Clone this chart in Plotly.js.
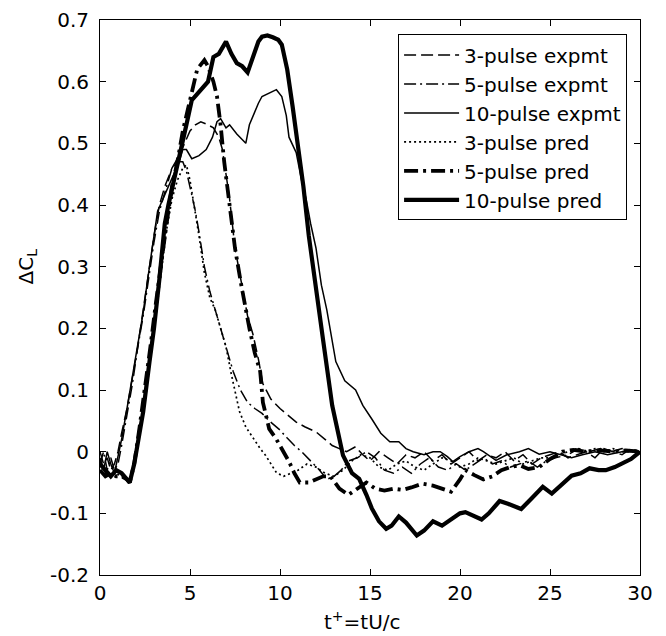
<!DOCTYPE html>
<html>
<head>
<meta charset="utf-8">
<script src="https://cdn.plot.ly/plotly-3.0.1.min.js"></script>
<style>html,body{margin:0;padding:0;background:#fff;}#chart{width:666px;height:636px;}</style>
</head>
<body>
<div id="chart"></div>
<script>
// ---- data ----
const seriesNames = ['3-pulse expmt','5-pulse expmt','10-pulse expmt','3-pulse pred','5-pulse pred','10-pulse pred'];

const t_e3 = [0,0.2,0.4,0.6,0.8,1.0,1.2,1.5,1.8,2.1,2.4,2.7,3.0,3.3,3.6,4.0,4.4,4.7,5.0,5.3,5.6,6.0,6.3,6.6,6.8,7.0,7.2,7.5,7.85,8.2,8.5,8.8,9.05,9.5,10.0,10.4,10.9,11.4,12.0,12.5,12.9,13.3,13.7,14.2,14.6,15.0,15.5,16.0,16.5,17.0,17.5,18.0,18.5,19.0,19.5,20.0,20.5,21.0,21.5,22.0,22.5,23.0,23.5,24.0,24.5,25.0,25.5,26.0,26.5,27.0,27.5,28.0,28.5,29.0,29.5,30];
const cl_e3 = [0.0,-0.02,-0.01,-0.03,-0.02,0.0,0.03,0.07,0.12,0.17,0.23,0.29,0.35,0.40,0.43,0.46,0.48,0.50,0.52,0.53,0.535,0.53,0.525,0.51,0.49,0.45,0.41,0.33,0.275,0.22,0.19,0.15,0.11,0.085,0.07,0.06,0.048,0.04,0.032,0.02,0.01,0.005,0.0,0.008,-0.005,-0.015,0.0,-0.01,-0.02,-0.005,-0.01,0.0,-0.015,-0.005,-0.02,-0.01,0.0,-0.015,-0.005,-0.01,0.0,-0.015,-0.005,-0.02,-0.01,-0.005,0.0,-0.01,-0.005,0.0,-0.01,0.005,0.0,-0.005,0.005,0.0];

const t_e5 = [0,0.2,0.4,0.6,0.8,1.0,1.2,1.5,1.8,2.1,2.4,2.7,3.0,3.3,3.6,4.0,4.3,4.6,4.8,5.0,5.3,5.5,5.8,6.1,6.4,6.7,7.0,7.4,7.8,8.2,8.6,9.0,9.4,10.0,10.4,10.8,11.2,11.7,12.2,12.6,13.0,13.4,13.8,14.3,14.8,15.3,15.8,16.3,16.8,17.3,17.8,18.3,18.8,19.3,19.8,20.3,20.8,21.3,21.8,22.3,22.8,23.3,23.8,24.3,24.8,25.3,26.0,26.6,27.2,27.8,28.4,29.0,29.5,30];
const cl_e5 = [-0.02,0.0,-0.03,-0.01,-0.03,-0.02,0.01,0.06,0.11,0.17,0.22,0.28,0.34,0.39,0.42,0.46,0.47,0.47,0.455,0.43,0.39,0.356,0.30,0.26,0.23,0.20,0.17,0.13,0.10,0.08,0.07,0.062,0.05,0.035,0.022,0.01,0.0,-0.015,-0.03,-0.045,-0.04,-0.03,-0.015,-0.01,0.0,-0.01,-0.03,-0.035,-0.025,-0.035,-0.02,-0.01,-0.025,-0.03,-0.02,-0.03,-0.02,-0.01,-0.02,-0.015,-0.025,-0.02,-0.015,-0.025,-0.015,-0.01,-0.005,0.005,0.0,0.005,0.0,0.005,0.0,0.0];

const t_e10 = [0,0.2,0.4,0.6,0.8,1.0,1.2,1.5,1.8,2.1,2.4,2.65,2.9,3.2,3.5,3.8,4.1,4.4,4.6,4.8,5.1,5.5,5.9,6.25,6.5,6.7,7.0,7.2,7.6,7.9,8.1,8.3,8.5,8.8,9.0,9.3,9.6,9.8,10.1,10.35,10.5,10.9,11.2,11.45,11.7,12.0,12.3,12.6,13.1,13.6,14.2,14.6,15.1,15.6,16.1,16.6,17.0,17.4,18.0,18.5,18.9,19.3,19.6,20.0,20.5,21.0,21.3,22.0,22.6,23.3,23.8,24.4,25.0,25.5,26.2,26.8,27.5,28.2,29.0,29.6,30];
const cl_e10 = [-0.01,-0.03,0.0,-0.02,-0.035,-0.01,0.02,0.07,0.12,0.17,0.226,0.28,0.33,0.39,0.41,0.43,0.45,0.47,0.49,0.49,0.475,0.48,0.49,0.51,0.535,0.54,0.525,0.53,0.515,0.505,0.50,0.53,0.545,0.565,0.576,0.58,0.583,0.587,0.576,0.545,0.51,0.485,0.44,0.41,0.37,0.33,0.27,0.23,0.146,0.115,0.10,0.075,0.053,0.03,0.016,0.016,0.005,0.0,-0.005,0.0,0.0,-0.008,-0.016,-0.008,0.0,0.005,0.0,-0.014,-0.005,0.0,0.005,-0.004,0.0,-0.004,-0.01,-0.005,0.0,-0.005,0.0,0.0,0.0];

const t_p3 = [0,0.3,0.6,0.9,1.2,1.5,1.65,1.9,2.2,2.5,2.8,3.1,3.4,3.7,4.0,4.3,4.6,4.8,5.0,5.3,5.5,5.8,6.1,6.4,6.7,7.0,7.3,7.75,8.1,8.5,8.9,9.2,9.5,9.8,10.2,10.6,11.0,11.5,12.0,12.5,13.0,13.5,14.0,14.5,15.0,15.5,16.0,16.5,17.0,17.5,18.0,18.5,19.0,19.5,20.0,20.5,21.0,21.5,22.0,22.5,23.0,23.5,24.0,24.5,25.0,25.5,26.0,26.5,27.0,27.5,28.0,28.5,29.0,29.5,30];
const cl_p3 = [-0.03,-0.035,-0.04,-0.035,-0.04,-0.045,-0.048,-0.02,0.03,0.08,0.15,0.22,0.29,0.36,0.41,0.44,0.46,0.465,0.44,0.39,0.35,0.29,0.25,0.23,0.2,0.17,0.125,0.065,0.04,0.022,0.005,-0.006,-0.02,-0.034,-0.04,-0.035,-0.03,-0.02,-0.025,-0.035,-0.04,-0.03,-0.015,-0.005,-0.01,-0.025,-0.03,-0.02,-0.015,-0.025,-0.03,-0.02,-0.01,-0.015,-0.025,-0.02,-0.01,-0.015,-0.02,-0.015,-0.01,-0.02,-0.015,-0.01,-0.01,-0.005,0.0,0.005,0.0,0.005,0.0,0.005,0.0,0.0,0.0];

const t_p5 = [0,0.3,0.6,0.9,1.2,1.5,1.65,1.9,2.2,2.5,2.8,3.1,3.4,3.7,4.0,4.3,4.6,4.9,5.1,5.4,5.8,6.0,6.3,6.5,6.7,6.9,7.2,7.5,7.85,8.1,8.3,8.6,8.9,9.05,9.4,9.8,10.1,10.5,10.8,11.1,11.6,12.0,12.4,12.8,13.3,13.8,14.3,14.8,15.3,15.8,16.3,16.8,17.3,17.9,18.5,19.0,19.5,20.0,20.3,20.8,21.3,21.8,22.3,22.8,23.3,23.8,24.4,25.0,25.7,26.3,27.0,27.8,28.5,29.2,30];
const cl_p5 = [-0.03,-0.04,-0.035,-0.04,-0.04,-0.045,-0.05,-0.02,0.04,0.1,0.17,0.24,0.31,0.37,0.43,0.47,0.52,0.56,0.585,0.62,0.635,0.625,0.6,0.576,0.53,0.47,0.40,0.33,0.27,0.23,0.2,0.16,0.13,0.08,0.037,0.02,0.005,-0.016,-0.035,-0.05,-0.05,-0.045,-0.04,-0.04,-0.06,-0.07,-0.06,-0.05,-0.06,-0.063,-0.06,-0.062,-0.058,-0.052,-0.055,-0.06,-0.065,-0.045,-0.03,-0.038,-0.045,-0.04,-0.03,-0.025,-0.022,-0.028,-0.025,-0.012,0.0,0.003,0.0,0.002,0.0,0.002,0.0];

const t_p10 = [0,0.3,0.6,0.9,1.2,1.5,1.65,1.9,2.2,2.4,2.75,3.0,3.3,3.6,3.8,4.2,4.5,4.8,5.1,5.4,5.7,6.0,6.3,6.6,7.0,7.3,7.6,7.9,8.2,8.5,8.8,9.0,9.3,9.6,9.9,10.1,10.4,10.7,11.0,11.3,11.6,12.0,12.4,12.9,13.5,14.0,14.4,14.8,15.1,15.5,15.9,16.2,16.6,17.0,17.6,18.0,18.5,19.0,19.5,20.0,20.3,20.8,21.2,21.6,22.2,22.7,23.4,24.0,24.6,25.1,25.6,26.2,26.7,27.2,27.7,28.1,28.6,29.0,29.5,30];
const cl_p10 = [-0.02,-0.03,-0.04,-0.03,-0.035,-0.045,-0.05,-0.02,0.03,0.065,0.146,0.2,0.28,0.37,0.40,0.45,0.49,0.53,0.57,0.58,0.59,0.6,0.64,0.645,0.665,0.645,0.63,0.625,0.615,0.64,0.665,0.673,0.675,0.672,0.668,0.66,0.62,0.56,0.5,0.43,0.35,0.26,0.18,0.075,-0.006,-0.035,-0.044,-0.07,-0.092,-0.113,-0.125,-0.12,-0.105,-0.115,-0.136,-0.128,-0.113,-0.12,-0.11,-0.1,-0.098,-0.105,-0.11,-0.1,-0.08,-0.085,-0.093,-0.075,-0.057,-0.068,-0.055,-0.039,-0.035,-0.027,-0.03,-0.03,-0.025,-0.02,-0.012,0.0];

const xTickVals = [0,5,10,15,20,25,30];
const yTickVals = [-0.2,-0.1,0,0.1,0.2,0.3,0.4,0.5,0.6,0.7];
const yTickText = ['-0.2','-0.1','0','0.1','0.2','0.3','0.4','0.5','0.6','0.7'];

// ---- styles ----
const FONT = 'DejaVu Sans, Liberation Sans, Arial, sans-serif';
const styles = [
  {width:1.5, dash:'12px,5px'},
  {width:1.5, dash:'12px,4px,2px,4px'},
  {width:1.5, dash:'solid'},
  {width:1.7, dash:'2px,3px'},
  {width:3.8, dash:'14px,5px,3px,5px'},
  {width:4.2, dash:'solid'}
];
const xs = [t_e3,t_e5,t_e10,t_p3,t_p5,t_p10];
const ys = [cl_e3,cl_e5,cl_e10,cl_p3,cl_p5,cl_p10];

const traces = seriesNames.map((n,i)=>({
  x: xs[i], y: ys[i], name: n, type:'scatter', mode:'lines',
  line:{color:'#000', width:styles[i].width, dash:styles[i].dash}
}));

const layout = {
  width:666, height:636,
  margin:{l:100, r:26, t:20, b:61, autoexpand:false},
  paper_bgcolor:'#fff', plot_bgcolor:'#fff',
  font:{family:FONT, size:20, color:'#000'},
  showlegend:true,
  legend:{x:0.552, y:0.974, xanchor:'left', yanchor:'top', bgcolor:'#fff',
          bordercolor:'#000', borderwidth:1, font:{family:FONT, size:20, color:'#000'},
          itemwidth:55},
  xaxis:{range:[0,30], tickvals:xTickVals, ticks:'inside', ticklen:6, tickcolor:'#000',
         showline:true, linecolor:'#000', linewidth:1, mirror:'ticks', showgrid:false, zeroline:false,
         tickfont:{family:FONT, size:20, color:'#000'}, ticklabelstandoff:0},
  yaxis:{range:[-0.2,0.7], tickvals:yTickVals, ticktext:yTickText, ticks:'inside', ticklen:6, tickcolor:'#000',
         showline:true, linecolor:'#000', linewidth:1, mirror:'ticks', showgrid:false, zeroline:false,
         tickfont:{family:FONT, size:20, color:'#000'}, ticklabelstandoff:6},
  annotations:[
    {text:'ΔC<sub>L</sub>', xref:'paper', yref:'paper', x:-0.135, y:0.556, xanchor:'center', yanchor:'middle',
     textangle:-90, showarrow:false, font:{family:FONT, size:20, color:'#000'}},
    {text:'t<sup>+</sup>=tU/c', xref:'paper', yref:'paper', x:0.487, y:-0.083, xanchor:'center', yanchor:'middle',
     showarrow:false, font:{family:FONT, size:20, color:'#000'}}
  ]
};

Plotly.newPlot('chart', traces, layout, {displayModeBar:false, staticPlot:true});
</script>
</body>
</html>
